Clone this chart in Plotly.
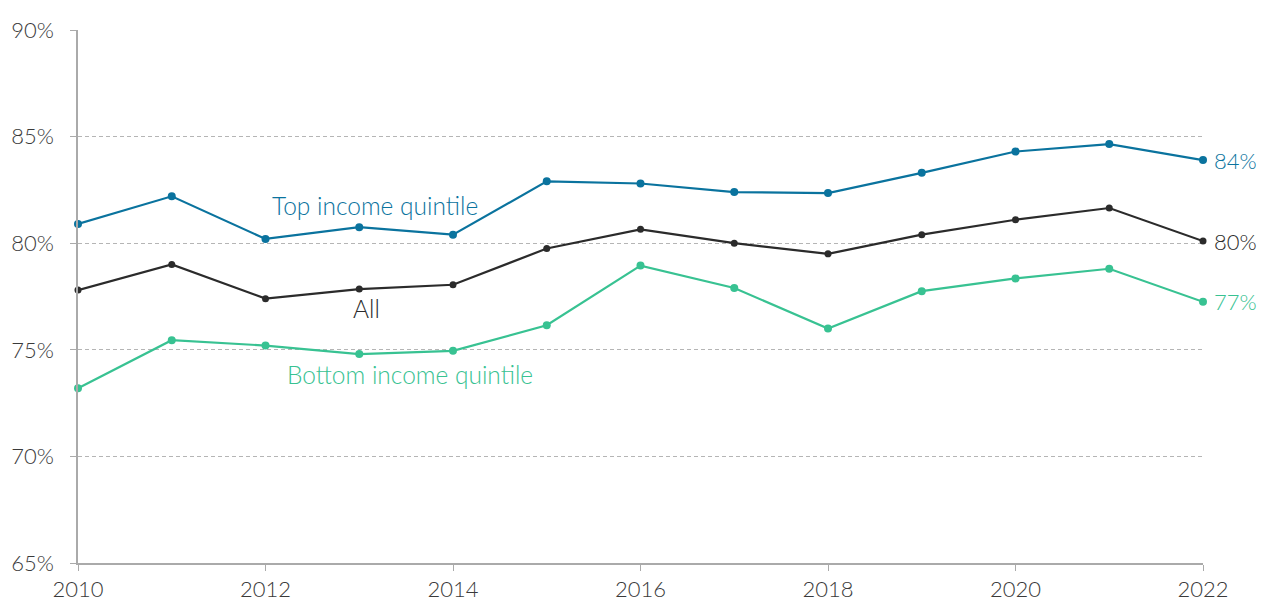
import plotly.graph_objects as go

years = list(range(2010, 2023))
top_quintile = [80.9, 82.2, 80.2, 80.75, 80.4, 82.9, 82.8, 82.4, 82.35, 83.3, 84.3, 84.65, 83.9]
all_households = [77.8, 79.0, 77.4, 77.85, 78.05, 79.75, 80.65, 80.0, 79.5, 80.4, 81.1, 81.65, 80.1]
bottom_quintile = [73.2, 75.45, 75.2, 74.8, 74.95, 76.15, 78.95, 77.9, 76.0, 77.75, 78.35, 78.8, 77.25]

y_ticks = [65, 70, 75, 80, 85, 90]
y_tick_text = ["65%", "70%", "75%", "80%", "85%", "90%"]
x_ticks = [2010, 2012, 2014, 2016, 2018, 2020, 2022]

BLUE = "#0A739E"
DARK = "#2B2B2B"
GREEN = "#38C292"
FONT = "Lato"
WEIGHT = 300

series = [
    ("Top income quintile", top_quintile, BLUE, 8),
    ("All", all_households, DARK, 7),
    ("Bottom income quintile", bottom_quintile, GREEN, 8),
]

fig = go.Figure()
for name, vals, color, msize in series:
    fig.add_trace(go.Scatter(
        x=years, y=vals, mode="lines+markers", name=name,
        line=dict(color=color, width=2.2),
        marker=dict(color=color, size=msize),
        cliponaxis=False,
    ))

# inline series labels
label_font = dict(size=24.5, family=FONT, weight=WEIGHT)
fig.add_annotation(x=2013.17, y=top_quintile[3], text="Top income quintile",
                   yshift=22, showarrow=False, font=dict(color=BLUE, **label_font))
fig.add_annotation(x=2013.08, y=all_households[3], text="All",
                   yshift=-19, showarrow=False, font=dict(color=DARK, **label_font))
fig.add_annotation(x=2013.54, y=bottom_quintile[3], text="Bottom income quintile",
                   yshift=-20, showarrow=False, font=dict(color=GREEN, **label_font))

# end-of-line value labels
for vals, color in [(top_quintile, BLUE), (all_households, DARK), (bottom_quintile, GREEN)]:
    fig.add_annotation(x=years[-1], y=vals[-1], text=f"{round(vals[-1])}%",
                       xanchor="left", xshift=9, showarrow=False,
                       font=dict(color=color, size=22, family=FONT, weight=WEIGHT))

fig.update_layout(
    width=1261, height=601,
    margin=dict(l=78, r=58, t=30, b=38, autoexpand=False),
    paper_bgcolor="white", plot_bgcolor="white",
    showlegend=False,
    font=dict(family=FONT, color="#3a3a3a", size=22, weight=WEIGHT),
)
fig.update_xaxes(
    range=[2010, 2022], tickvals=x_ticks, showgrid=False,
    showline=True, linecolor="#aaaaaa", linewidth=1.5,
    ticks="outside", ticklen=6, tickcolor="#aaaaaa",
    tickfont=dict(size=22, color="#3a3a3a", family=FONT, weight=WEIGHT), zeroline=False,
    automargin=False,
)
fig.update_yaxes(
    range=[65, 90], tickvals=y_ticks, ticktext=y_tick_text,
    showgrid=True, gridcolor="#b5b5b5", griddash="4px,3px", gridwidth=1,
    showline=True, linecolor="#aaaaaa", linewidth=1.5,
    ticks="outside", ticklen=6, tickcolor="#aaaaaa",
    tickfont=dict(size=22, color="#3a3a3a", family=FONT, weight=WEIGHT), zeroline=False,
    ticklabelstandoff=12, automargin=False,
)

fig.write_html("out.html")
